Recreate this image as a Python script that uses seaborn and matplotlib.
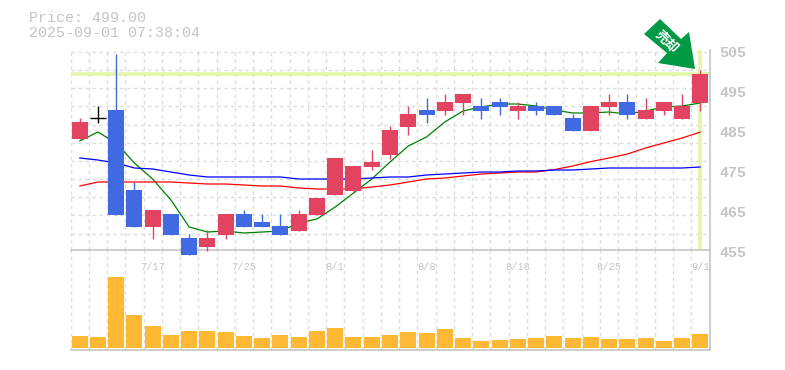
"""Daily candlestick chart with moving averages and a volume panel."""

import numpy as np
import pandas as pd
import matplotlib
matplotlib.use('Agg')
import matplotlib.pyplot as plt
import seaborn as sns
from matplotlib.patches import Polygon
from matplotlib.ticker import MultipleLocator

# ── data ────────────────────────────────────────
opens = [482.75, 488, 490, 470, 460.75, 464, 458, 455.75, 458.75, 464, 462, 461, 459.75, 463.75, 468.75, 469.75, 475.75, 478.75,
         485.75, 490, 489.75, 491.75, 491, 492, 489.75, 491, 491, 488, 484.75, 490.75, 492, 487.75, 489.75, 487.75, 491.75]
closes = [487, 488, 463.75, 460.75, 465, 458.75, 453.75, 458, 464, 460.75, 460.75, 458.75, 464, 468, 478, 476, 477, 485,
          489, 488.75, 492, 494, 489.75, 490.75, 491, 489.75, 488.75, 484.75, 491, 492, 488.75, 490, 492, 491, 499]
highs = [488, 491, 504, 472, 465, 464, 459, 460, 464, 465, 464, 464, 465, 468, 478, 476, 480, 486,
         491, 493, 494, 494, 493, 493, 492, 492, 491, 489, 491, 494, 494, 493, 492, 494, 500]
lows = [482.75, 486.75, 463.75, 460.75, 457.75, 458.75, 453.75, 454.75, 457.75, 460.75, 460.75, 458.75, 459.75, 463.75, 468.75, 469.75, 475, 477.75,
        483.75, 486.75, 488.75, 488.75, 487.75, 488.75, 487.75, 488.75, 488.75, 484.75, 484.75, 488.75, 487.75, 487.75, 488.75, 487.75, 489.75]

ma_short = [482.25, 484.5, 481.75, 476.75, 472.75, 467.5, 460.75, 459.5, 459.75, 459.25, 459.5, 459.75, 461.75, 462.75, 465.75, 469.25, 472.75, 477,
            481, 483.25, 487, 489.75, 490.75, 491.5, 491.5, 491, 490, 489.25, 489.25, 489.5, 489, 489.75, 490.75, 491, 491.75]
ma_mid = [471, 472, 472, 472, 472, 472, 471.75, 471.5, 471.5, 471.25, 471, 471, 470.5, 470.25, 470.25, 470.25, 470.75, 471.25,
          472, 472.75, 473, 473.5, 474, 474.25, 474.5, 474.5, 475.1, 476, 477.1, 478, 479, 480.5, 481.75, 483, 484.5]
ma_long = [478, 477.5, 476.75, 475.5, 475.25, 474.5, 473.75, 473.25, 473.25, 473.25, 473.25, 473.25, 472.75, 472.75, 472.75, 472.75, 473, 473.25,
           473.25, 473.75, 474, 474.25, 474.5, 474.5, 474.75, 474.75, 475, 475, 475.25, 475.5, 475.5, 475.5, 475.5, 475.5, 475.75]
volumes = [12, 11, 71, 33, 22, 13, 17, 17, 16, 12, 10, 13, 11, 17, 20, 11, 11, 13,
           16, 15, 19, 10, 7, 8, 9, 10, 12, 10, 11, 9, 9, 10, 7, 10, 14]

date_ticks = [4, 9, 14, 19, 24, 29, 34]
date_labels = ['7/17', '7/25', '8/1', '8/8', '8/18', '8/25', '9/1']
price_ticks = [455, 465, 475, 485, 495, 505]
last_price = 499.00
stamp = '2025-09-01 07:38:04'

# ── colours ─────────────────────────────────────
UP = '#e24360'
DOWN = '#4169e1'
GRID = '#dcdcdc'
AXIS = '#c0c0c0'
TEXT = '#c4c4c4'
MARK = '#e4f4a8'
ARROW = '#009944'
MONO = 'Liberation Mono'

sns.set_theme(style='white')
plt.rcParams['font.family'] = [MONO, 'Noto Sans CJK JP', 'DejaVu Sans']

W, H = 785, 370
fig = plt.figure(figsize=(W / 100, H / 100), dpi=100)
left, right, top, mid, bottom = 70.5, 709.5, 50, 250, 350
ax = fig.add_axes([left / W, 1 - mid / H, (right - left) / W, (mid - top) / H], zorder=2)
vax = fig.add_axes([left / W, 1 - bottom / H, (right - left) / W, (bottom - mid) / H], zorder=1)

df = pd.DataFrame({'x': np.arange(len(opens)), 'open': opens, 'close': closes, 'high': highs, 'low': lows,
                   'short': ma_short, 'mid': ma_mid, 'long': ma_long, 'volume': volumes})
body_w = 16 / 18.235


def style_axis(a):
    a.set_xlim(-0.5, len(df) - 0.5)
    a.xaxis.set_minor_locator(MultipleLocator(1, offset=0.5))
    a.set_xticks(date_ticks)
    a.grid(False)
    a.grid(True, which='minor', axis='x', color=GRID, lw=1, ls=(0, (2.5, 2.5)), zorder=0)
    a.set_axisbelow(True)
    for name, spine in a.spines.items():
        spine.set_visible(name in ('right', 'bottom'))
        spine.set_color(AXIS)
        spine.set_linewidth(1.1)
    a.tick_params(which='both', length=0)
    a.set_xlabel('')
    a.set_ylabel('')


# ── volume panel ────────────────────────────────
sns.barplot(data=df, x='x', y='volume', native_scale=True, width=body_w, color='#ffb833',
            saturation=1, lw=0, ax=vax, zorder=3)
style_axis(vax)
vax.set_ylim(-2, 98)
vax.set_yticks([])
vax.xaxis.tick_top()
vax.set_xticklabels(date_labels, fontsize=7.5, color=TEXT)
vax.tick_params(axis='x', which='both', length=0, pad=-16)

# ── price panel ─────────────────────────────────
ax.axhline(last_price, color=MARK, lw=2.6, zorder=1)
ax.axvline(df['x'].iloc[-1], color=MARK, lw=2.6, zorder=1)

sns.lineplot(data=df, x='x', y='short', color='#008000', lw=0.9, ax=ax, zorder=2)
sns.lineplot(data=df, x='x', y='mid', color='#ff0000', lw=0.9, ax=ax, zorder=2)
sns.lineplot(data=df, x='x', y='long', color='#0000ff', lw=0.9, ax=ax, zorder=2)

for row in df.itertuples():
    if row.open == row.close:
        color = 'black'
    else:
        color = UP if row.close > row.open else DOWN
    ax.vlines(row.x, row.low, row.high, color=color, lw=1, zorder=3, clip_on=False)
    if row.open == row.close:
        ax.hlines(row.close, row.x - body_w / 2, row.x + body_w / 2, color=color, lw=1, zorder=3)
    else:
        ax.bar(row.x, abs(row.close - row.open), bottom=min(row.open, row.close),
               width=body_w, color=color, lw=0, zorder=3, clip_on=False)

style_axis(ax)
ax.set_ylim(455, 505)
ax.yaxis.set_major_locator(MultipleLocator(50 / 11))
ax.grid(True, which='major', axis='y', color=GRID, lw=1, ls=(0, (2.5, 2.5)), zorder=0)
ax.tick_params(labelleft=False, labelbottom=False)
ax.patch.set_alpha(0)

for p in price_ticks:
    ax.annotate(str(p), xy=(1, p), xycoords=('axes fraction', 'data'), xytext=(10, -3), textcoords='offset pixels',
                ha='left', va='center', fontsize=10.8, color=TEXT, annotation_clip=False, fontweight='bold')

# ── header ──────────────────────────────────────
fig.text(29 / W, 1 - 18 / H, f'Price: {last_price:.2f}', fontsize=10.8, color=TEXT, va='center', ha='left')
fig.text(29 / W, 1 - 33 / H, stamp, fontsize=10.8, color=TEXT, va='center', ha='left')

# ── sell arrow ──────────────────────────────
arrow_px = [(660, 19), (644, 34), (667, 53), (658, 63), (695, 69), (689, 32), (681, 39)]
fig.add_artist(Polygon([(x / W, 1 - y / H) for x, y in arrow_px], closed=True, transform=fig.transFigure,
                       facecolor=ARROW, edgecolor='none', zorder=5))
fig.text(667 / W, 1 - 42 / H, '売却', fontsize=9.5, color='white', rotation=-45, fontweight='bold',
         ha='center', va='center', rotation_mode='anchor', family=['Noto Sans CJK JP', 'DejaVu Sans'], zorder=6)

fig.savefig('out.png', dpi=100)
